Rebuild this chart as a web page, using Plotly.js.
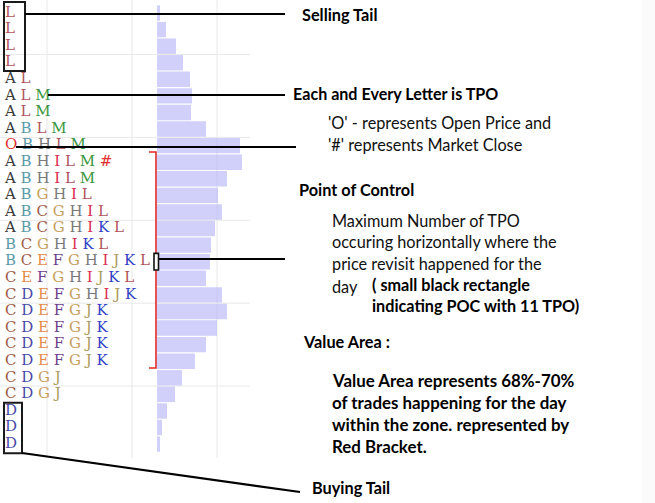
<!DOCTYPE html>
<html><head><meta charset="utf-8">
<script src="https://cdn.plot.ly/plotly-3.0.1.min.js"></script>
<style>html,body{margin:0;padding:0;background:#fff}</style>
</head><body><div id="chart" style="width:655px;height:503px"></div>
<script>
// ---- data ----
const rowNumber = [1,2,3,4,5,6,7,8,9,10,11,12,13,14,15,16,17,18,19,20,21,22,23,24,25,26,27];
const tpoRows = ["L","L","L","L","A L","A L M","A L M","A B L M","O B H L M","A B H I L M #","A B H I L M",
  "A B G H I L","A B C G H I L","A B C G H I K L","B C G H I K L","B C E F G H I J K L","C E F G H I J K L",
  "C D E F G H I J K","C D E F G J K","C D E F G J K","C D E F G J K","C D E F G J K","C D G J","C D G J","D","D","D"];
const volume = [3,9,19,26,33,35,34,49,83,85,70,61,65,58,54,53,49,65,70,60,49,38,25,18,10,5,3];
const pocRow = 16;
const sellingTailRows = [1,4];
const buyingTailRows = [25,27];

// ---- styles ----
const letterColors = {A:'#3c3c3c',B:'#5a9aa8',C:'#a05a48',D:'#4a4aa8',E:'#e58a48',F:'#6e3e8c',G:'#c8a060',
  H:'#7a7a7a',I:'#dc2c50',J:'#ab9c5c',K:'#3040c4',L:'#b0545a',M:'#3c9640',O:'#e03030','#':'#e03030'};

const W = 655, H = 503;
const X = px => px / W;
const Y = py => 1 - py / H;
const yTop = 1 - 13/16.58, yBot = 1 + (H - 13)/16.58;

const richRows = tpoRows.map(r => r.split(' ').map((c, i, a) =>
  `<span style="color:${letterColors[c]}">${c}${i < a.length - 1 ? ' ' : ''}</span>`).join(''));

const traces = [
  {type:'bar', orientation:'h', x: volume, y: rowNumber, xaxis:'x2', yaxis:'y',
   marker:{color:'rgba(170,170,245,0.55)', line:{width:0}}, hoverinfo:'skip'},
  {type:'scatter', mode:'text', x: rowNumber.map(() => 0), y: rowNumber, xaxis:'x', yaxis:'y',
   text: richRows, textposition:'middle right', cliponaxis:false,
   textfont:{family:'DejaVu Serif', size:15}, hoverinfo:'skip'}
];

const line = (x0,y0,x1,y1,color='#000',w=2.2) => ({type:'line', xref:'paper', yref:'paper',
  x0:X(x0), y0:Y(y0), x1:X(x1), y1:Y(y1), line:{color, width:w}});
const grid = '#e8e8e8';
const shapes = [
  {type:'rect', xref:'paper', yref:'paper', x0:X(642), x1:1, y0:0, y1:1, fillcolor:'#fbfbfb', line:{width:0}, layer:'below'},
  ...[47,132,217].map(x => ({type:'line', xref:'paper', yref:'paper', x0:X(x), x1:X(x), y0:Y(0), y1:Y(458), line:{color:grid, width:1}, layer:'below'})),
  ...[3.5,8.5,13.5,18.5,23.5].map(r => ({type:'line', xref:'paper', yref:'y', x0:0, x1:X(250), y0:r, y1:r, line:{color:grid, width:1}, layer:'below'})),
  {type:'rect', xref:'paper', yref:'y', x0:X(4), x1:X(25), y0:sellingTailRows[0]-0.66, y1:sellingTailRows[1]+0.5, line:{color:'#1a1a1a', width:2}},
  {type:'rect', xref:'paper', yref:'y', x0:X(4), x1:X(22), y0:buyingTailRows[0]-0.5, y1:buyingTailRows[1]+0.55, line:{color:'#1a1a1a', width:2}},
  {type:'path', xref:'paper', yref:'paper',
   path:`M ${X(149)} ${Y(152)} L ${X(156)} ${Y(152)} L ${X(156)} ${Y(368)} L ${X(149)} ${Y(368)}`, line:{color:'#e02828', width:1.6}},
  line(25,14,285,14),
  line(48,95,285,95),
  line(16,147,296,147),
  line(158,259,285,259),
  line(22,453,300,492),
  {type:'rect', xref:'paper', yref:'y', x0:X(154), x1:X(158.5), y0:pocRow-0.5, y1:pocRow+0.5, fillcolor:'#fff', line:{color:'#111', width:1.6}},
];

const head = {family:'Lato', size:16.3, color:'#000', weight:'bold'};
const head2 = {family:'Lato', size:16.1, color:'#000', weight:'bold'};
const boldBody = {family:'Lato', size:16.2, color:'#000', weight:'bold'};
const boldBody2 = {family:'Lato', size:16.9, color:'#000', weight:'bold'};
const reg = {family:'Lato', size:16.3, color:'#111'};
const ann = (x, y, text, font) => ({xref:'paper', yref:'paper', x:X(x-2.5), y:Y(y), text, showarrow:false,
  xanchor:'left', yanchor:'middle', font, align:'left'});
const annotations = [
  ann(302,14,'<b>Selling Tail</b>',head),
  ann(293,94,'<b>Each and Every Letter is TPO</b>',head2),
  ann(328,122,"'O' - represents Open Price and",reg),
  ann(328,144,"'#' represents Market Close",reg),
  ann(299,190,'<b>Point of Control</b>',head),
  ann(332,220,'Maximum Number of TPO',reg),
  ann(332,242,'occuring horizontally where the',reg),
  ann(332,263,'price revisit happened for the',reg),
  ann(332,286,'day',reg),
  ann(372,284,'<b>( small black rectangle</b>',boldBody),
  ann(372,305,'<b>indicating POC with 11 TPO)</b>',boldBody),
  ann(303,341,'<b>Value Area :</b>',head),
  ann(332,380,'<b>Value Area represents 68%-70%</b>',boldBody2),
  ann(332,402,'<b>of trades happening for the day</b>',boldBody2),
  ann(332,424,'<b>within the zone. represented by</b>',boldBody2),
  ann(332,446,'<b>Red Bracket.</b>',boldBody2),
  ann(312,487,'<b>Buying Tail</b>',head),
];

const hidden = {showgrid:false, zeroline:false, showticklabels:false, showline:false, ticks:'', fixedrange:true};
const layout = {
  width:W, height:H, margin:{l:0,r:0,t:0,b:0}, paper_bgcolor:'#fff', plot_bgcolor:'rgba(0,0,0,0)',
  showlegend:false, bargap:0.07,
  xaxis:{...hidden, domain:[0,1], range:[-5, W-5]},
  xaxis2:{...hidden, domain:[X(157),1], range:[0, W-157], anchor:'y'},
  yaxis:{...hidden, range:[yBot, yTop]},
  shapes, annotations
};
Plotly.newPlot('chart', traces, layout, {displayModeBar:false, staticPlot:true});
</script></body></html>
